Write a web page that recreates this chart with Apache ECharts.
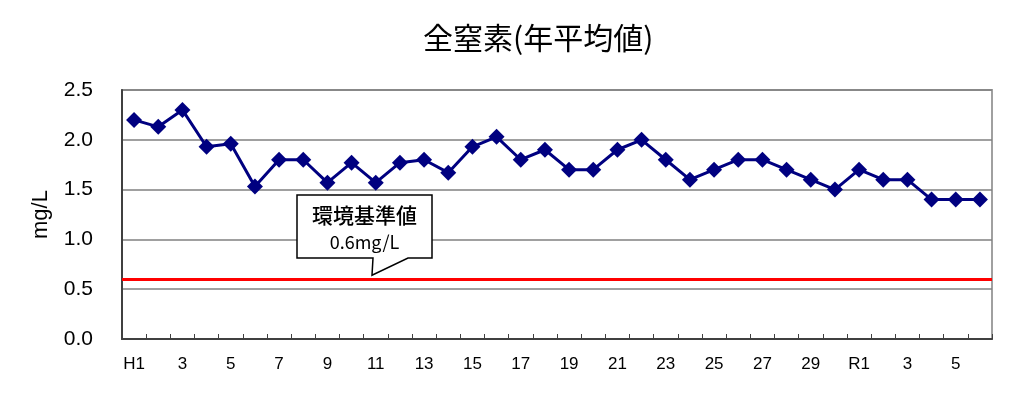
<!DOCTYPE html>
<html>
<head>
<meta charset="utf-8">
<script src="https://cdn.jsdelivr.net/npm/echarts@6/dist/echarts.min.js"></script>
<style>
  html, body { margin: 0; padding: 0; background: #fff; }
  #chart { width: 1019px; height: 399px; }
</style>
</head>
<body>
<div id="chart"></div>
<script>
// 年度 (H1-H30, R1-R6)
var years = ['H1', '2', '3', '4', '5', '6', '7', '8', '9', '10',
  '11', '12', '13', '14', '15', '16', '17', '18', '19', '20',
  '21', '22', '23', '24', '25', '26', '27', '28', '29', '30',
  'R1', '2', '3', '4', '5', '6'];
// 全窒素 年平均値 mg/L
var tnValues = [2.2, 2.13, 2.3, 1.93, 1.96, 1.53, 1.8, 1.8, 1.57, 1.77,
  1.57, 1.77, 1.8, 1.67, 1.93, 2.03, 1.8, 1.9, 1.7, 1.7,
  1.9, 2.0, 1.8, 1.6, 1.7, 1.8, 1.8, 1.7, 1.6, 1.5,
  1.7, 1.6, 1.6, 1.4, 1.4, 1.4];
var standardValue = 0.6;
var yTicks = [0, 0.5, 1.0, 1.5, 2.0, 2.5];

var latin = '"Liberation Sans", Arial, sans-serif';
var jp = '"Noto Sans CJK JP", sans-serif';

var chart = echarts.init(document.getElementById('chart'));

chart.setOption({
  backgroundColor: '#fff',
  animation: false,
  title: {
    text: '全窒素(年平均値)',
    left: 418,
    top: 18,
    textStyle: { fontFamily: jp, fontSize: 30, fontWeight: 'normal', color: '#000' },
  },
  grid: {
    left: 122,
    right: 27,
    top: 90,
    bottom: 60,
    show: true,
    borderColor: '#a0a0a0',
    borderWidth: 2,
  },
  xAxis: {
    type: 'category',
    data: years,
    boundaryGap: true,
    axisLine: { lineStyle: { color: '#404040', width: 2 } },
    axisTick: { show: true, inside: true, length: 5, interval: 0, lineStyle: { color: '#404040' } },
    axisLabel: { interval: 1, color: '#000', fontFamily: latin, fontSize: 17, margin: 17 },
  },
  yAxis: {
    type: 'value',
    min: yTicks[0],
    max: yTicks[yTicks.length - 1],
    interval: 0.5,
    name: 'mg/L',
    nameLocation: 'middle',
    nameGap: 70,
    nameTextStyle: { fontFamily: latin, fontSize: 22, color: '#000' },
    axisLine: { show: true, lineStyle: { color: '#404040', width: 2 } },
    axisTick: { show: false },
    splitLine: { lineStyle: { color: '#808080', width: 1.5 } },
    axisLabel: {
      color: '#000',
      fontFamily: latin,
      fontSize: 21,
      margin: 29,
      formatter: function (v) { return v.toFixed(1); },
    },
  },
  series: [
    {
      type: 'line',
      data: tnValues,
      symbol: 'diamond',
      symbolSize: 16,
      lineStyle: { color: '#000080', width: 3 },
      itemStyle: { color: '#000080' },
      z: 5,
      markLine: {
        silent: true,
        symbol: ['none', 'none'],
        label: { show: false },
        lineStyle: { color: '#ff0000', width: 3, type: 'solid' },
        data: [{ yAxis: standardValue }],
        z: 3,
      },
    },
  ],
});

// 環境基準値 callout
var tipY = chart.convertToPixel({ yAxisIndex: 0 }, standardValue) - 4;
var box = { x1: 297, y1: 195, x2: 432, y2: 258 };
chart.setOption({
  graphic: [
    {
      type: 'polygon',
      z: 10,
      shape: {
        points: [
          [box.x1, box.y1], [box.x2, box.y1], [box.x2, box.y2],
          [408, box.y2], [372, tipY], [373, box.y2], [box.x1, box.y2],
        ],
      },
      style: { fill: '#fff', stroke: '#000', lineWidth: 1.5 },
    },
    {
      type: 'text',
      z: 11,
      x: (box.x1 + box.x2) / 2,
      y: 215,
      style: { text: '環境基準値', font: '500 21px ' + jp, fill: '#000', align: 'center', verticalAlign: 'middle' },
    },
    {
      type: 'text',
      z: 11,
      x: (box.x1 + box.x2) / 2,
      y: 242,
      style: { text: '0.6mg/L', font: '18px ' + jp, fill: '#000', align: 'center', verticalAlign: 'middle' },
    },
  ],
});
</script>
</body>
</html>
